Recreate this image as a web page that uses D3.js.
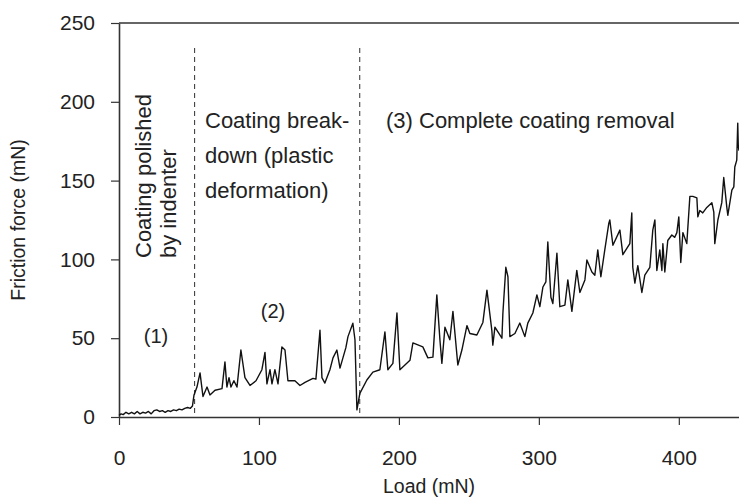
<!DOCTYPE html>
<html>
<head>
<meta charset="utf-8">
<script src="https://cdn.jsdelivr.net/npm/d3@7"></script>
<style>
  body { margin: 0; background: #fff; }
  svg text { font-family: "Liberation Sans", Arial, Helvetica, sans-serif; fill: #222; }
</style>
</head>
<body>
<div id="chart"></div>
<script>
// Scratch test trace: load (mN) vs friction force (mN)
const load = [
  0, 1.5, 3, 5, 7, 9, 11, 13, 15, 17, 19, 21, 23, 25, 27, 29, 31, 33, 35, 37, 39, 41, 43, 45, 47, 49, 51, 52.5,
  53.6, 55.7, 57.9, 60, 62.9, 65, 68.6, 73.6, 75.7, 77.1, 78.6, 80, 82.1, 84.3, 87.1, 90, 93.6, 97.9,
  102.1, 104.3, 105.7, 107.9, 109.3, 111.4, 113.6, 116.4, 118.6, 120.7, 125.7, 129.3, 132.9, 138.6, 140.7,
  143.6, 145, 147.1, 150.7, 152.9, 155.7, 157.9, 162.1, 163.6, 167.1, 168.6, 170, 172.1, 177.1, 181.4,
  186.4, 190, 192.1, 195.7, 198.6, 200.7, 207.9, 210, 217.1, 220.7, 224.3, 227.1, 229.3, 230.7, 232.9,
  236.4, 238.6, 242.1, 245, 248.6, 250.7, 255.7, 260, 262.9, 266.4, 267.1, 268.6, 273.6, 274.3, 276.4,
  277.9, 279.3, 282.9, 286.4, 290, 292.1, 295.7, 298.6, 300.7, 302.9, 305, 306.4, 308.6, 310, 312.9, 315,
  318.6, 320.7, 323.6, 327.1, 329.3, 332.9, 334.3, 337.9, 340, 342.1, 344.3, 347.1, 350, 350.7, 352.9,
  357.9, 360, 365, 366.4, 367.1, 368.6, 370.7, 373.6, 375.7, 379.3, 381.4, 382.9, 384.3, 386.4, 387.9,
  388.6, 390, 392.1, 395, 397.1, 398.6, 400, 401.4, 402.9, 405.7, 407.9, 410, 412.9, 413.6, 415, 417.1,
  420, 423.6, 425, 425.7, 427.9, 430.7, 432.1, 434.3, 435, 437.9, 439.3, 440, 441.4, 442.1, 442.5, 443
];
const force = [
  1, 2, 1.5, 3, 2, 3, 2, 3.5, 2, 3, 2.5, 3.5, 2, 4, 4.5, 3.5, 4, 3, 4, 3.5, 4.5, 4, 5, 4.5, 5.5, 6, 5.5, 7,
  14, 19, 28, 13, 19, 14, 17, 18, 35, 19, 25, 19, 23, 19, 42.5, 25, 20, 23,
  30, 41, 21, 30, 21, 30, 21, 44.5, 42.5, 23, 23, 20, 22, 24.5, 24,
  55, 25, 21.5, 30, 37.5, 42.5, 31, 44, 51, 59.5, 49, 4.5, 15, 23.5, 28.5,
  30, 54, 30, 34, 66, 30, 36, 47, 44.5, 37.5, 38, 77.5, 49, 34, 57,
  49, 67, 33, 42.5, 58, 53, 52, 60, 80.5, 55, 45.6, 57, 50, 66, 95,
  89, 51, 53, 59.6, 51, 59.6, 66, 77.5, 70, 82.5, 85.7, 111, 76, 72, 104, 70,
  71, 87, 67, 93, 79, 87, 99.6, 92, 90, 106, 89, 106, 123, 125, 109,
  118.6, 103, 110, 129.5, 95, 85, 96, 79, 90, 95, 118.6, 125, 93, 106, 93,
  110, 92, 112, 115.5, 114, 117, 127, 98, 117, 110, 140, 140, 139, 127, 131, 129.5,
  133, 136, 130, 110, 125, 136, 152, 133, 128, 144, 146, 158.6, 163, 186.5, 172, 169
];
const xTicks = [0, 100, 200, 300, 400];
const yTicks = [0, 50, 100, 150, 200, 250];
const phaseBounds = [54, 172];

const width = 739, height = 497;
const svg = d3.select("#chart").append("svg")
    .attr("width", width)
    .attr("height", height);

const x = d3.scaleLinear().domain([0, 443]).range([119, 739]);
const y = d3.scaleLinear().domain([0, 250]).range([417, 23]);

// Axes
const xAxis = svg.append("g")
    .attr("transform", `translate(0,${y(0)})`)
    .call(d3.axisBottom(x).tickValues(xTicks).tickSize(8).tickPadding(25).tickSizeOuter(0));
const yAxis = svg.append("g")
    .attr("transform", `translate(${x(0)},0)`)
    .call(d3.axisLeft(y).tickValues(yTicks).tickSize(8).tickPadding(16).tickSizeOuter(0));

[xAxis, yAxis].forEach(g => {
    g.select(".domain").attr("stroke", "#333").attr("stroke-width", 1.6);
    g.selectAll(".tick line").attr("stroke", "#333").attr("stroke-width", 1.2);
    g.selectAll(".tick text").style("font-size", "21px").attr("fill", "#222");
});

// Top frame line
svg.append("line")
    .attr("x1", x(0)).attr("x2", x(443))
    .attr("y1", y(250)).attr("y2", y(250))
    .attr("stroke", "#333").attr("stroke-width", 1.6);

// Phase boundaries
svg.selectAll(".phase")
    .data(phaseBounds)
    .enter()
    .append("line")
    .attr("class", "phase")
    .attr("x1", d => x(d)).attr("x2", d => x(d))
    .attr("y1", 48).attr("y2", y(0))
    .attr("stroke", "#444")
    .attr("stroke-width", 1.1)
    .attr("stroke-dasharray", "5,4");

// Friction trace
const line = d3.line().x((d, i) => x(load[i])).y(d => y(d));
svg.append("path")
    .attr("d", line(force))
    .attr("fill", "none")
    .attr("stroke", "#111")
    .attr("stroke-width", 1.4)
    .attr("stroke-linejoin", "round");

// Annotations
const ann = (tx, ty, txt, size, anchor) => svg.append("text")
    .attr("x", tx).attr("y", ty)
    .attr("text-anchor", anchor || "start")
    .style("font-size", size + "px")
    .text(txt);

ann(205, 128, "Coating break-", 22);
ann(205, 163, "down (plastic", 22);
ann(205, 198, "deformation)", 22);
ann(386, 128, "(3) Complete coating removal", 22);
ann(156, 343, "(1)", 20, "middle");
ann(273, 318, "(2)", 20, "middle");

svg.append("text")
    .attr("transform", "translate(151,258) rotate(-90)")
    .style("font-size", "22px")
    .text("Coating polished");
svg.append("text")
    .attr("transform", "translate(176,258) rotate(-90)")
    .style("font-size", "22px")
    .text("by indenter");

// Axis titles
svg.append("text")
    .attr("x", 429).attr("y", 493)
    .attr("text-anchor", "middle")
    .style("font-size", "19.5px")
    .text("Load (mN)");
svg.append("text")
    .attr("transform", `translate(25,${(y(0) + y(250)) / 2}) rotate(-90)`)
    .attr("text-anchor", "middle")
    .style("font-size", "19.5px")
    .text("Friction force (mN)");
</script>
</body>
</html>
